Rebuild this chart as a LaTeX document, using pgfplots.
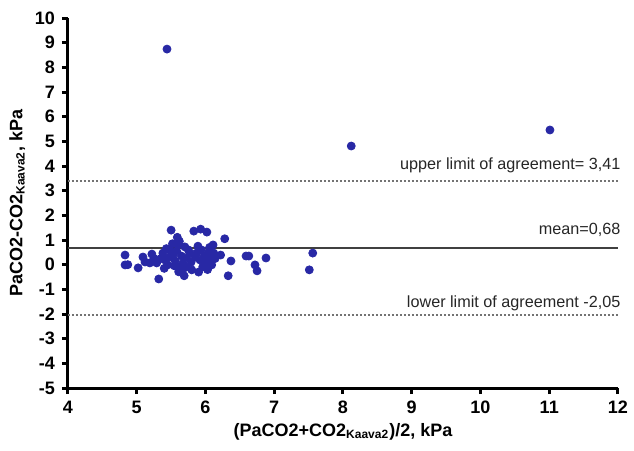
\documentclass[border=0pt]{standalone}
\usepackage{fontspec}
\setmainfont{Liberation Sans}
\usepackage{pgfplots}
\pgfplotsset{compat=1.18}
\definecolor{dotblue}{RGB}{40,40,165}

\begin{document}
\begin{tikzpicture}
\begin{axis}[
    scale only axis,
    width=275pt, height=185pt,
    xmin=4, xmax=12,
    ymin=-5, ymax=10,
    xtick={4,...,12},
    ytick={-5,...,10},
    axis lines=left,
    axis line style={line width=1.5pt, -},
    tick style={line width=1.5pt, black},
    tick align=outside,
    major tick length=3pt,
    tick label style={font=\fontsize{9}{10}\selectfont\bfseries},
    /pgf/number format/assume math mode=true,
    label style={font=\fontsize{9}{10}\selectfont\bfseries},
    xlabel={(PaCO2+CO2\textsubscript{Kaava2})/2, kPa},
    ylabel={PaCO2-CO2\textsubscript{Kaava2}, kPa},
    xlabel style={yshift=2pt},
    ylabel style={yshift=-2pt},
    clip=false,
]
\addplot[only marks, mark=*, mark size=2pt, dotblue] coordinates {
    (5.44,8.74) (8.12,4.81) (11.01,5.46)
    (4.83,0.39) (4.83,-0.01) (4.87,0.00) (5.02,-0.13) (5.09,0.31)
    (5.12,0.11) (5.22,0.43) (5.19,0.07) (5.29,0.07) (5.32,-0.58)
    (5.38,0.47) (5.41,0.19) (5.50,1.40) (5.59,1.11) (5.48,0.59)
    (5.53,0.39) (5.45,-0.01) (5.60,0.80) (5.63,-0.09) (5.61,-0.29)
    (5.69,-0.45) (5.70,0.72) (5.73,0.27) (5.77,0.47) (5.80,-0.21)
    (5.83,1.36) (5.93,1.44) (6.02,1.32) (5.87,0.47) (5.92,0.19)
    (5.96,-0.09) (6.04,0.47) (6.07,0.19) (6.11,0.80) (6.12,0.47)
    (6.09,-0.01) (6.22,0.39) (6.28,1.05) (6.37,0.15) (6.33,-0.45)
    (6.59,0.35) (6.63,0.35) (6.72,-0.01) (6.75,-0.25) (6.88,0.27)
    (7.56,0.47) (7.51,-0.21)
    (5.35,0.25) (5.43,0.65) (5.52,0.85) (5.56,0.15) (5.58,0.55)
    (5.65,0.35) (5.67,0.05) (5.72,-0.10) (5.75,0.60) (5.79,0.10)
    (5.85,0.30) (5.89,0.75) (5.94,0.60) (5.98,0.35) (6.00,0.05)
    (6.03,-0.20) (6.06,0.70) (5.40,-0.15) (5.25,0.25) (5.47,0.30)
    (5.66,-0.25) (5.90,-0.30) (6.14,0.25) (5.55,-0.05) (5.62,0.95)
};
\addplot[line width=0.75pt, black!75] coordinates {(4,0.68) (12,0.68)};
\addplot[line width=1pt, densely dotted, black!55] coordinates {(4,3.41) (12,3.41)};
\addplot[line width=1pt, densely dotted, black!55] coordinates {(4,-2.05) (12,-2.05)};
\node[anchor=base east, font=\fontsize{8.1}{9}\selectfont, text=black!85, inner sep=0pt] at (axis cs:12.04,3.41) [yshift=5.5pt] {upper limit of agreement= 3,41};
\node[anchor=base east, font=\fontsize{8.1}{9}\selectfont, text=black!85, inner sep=0pt] at (axis cs:12.04,0.68) [yshift=6.5pt] {mean=0,68};
\node[anchor=base east, font=\fontsize{8.1}{9}\selectfont, text=black!85, inner sep=0pt] at (axis cs:12.04,-2.05) [yshift=4pt] {lower limit of agreement -2,05};
\end{axis}
\pgfresetboundingbox
\path[use as bounding box] ([xshift=-34pt,yshift=-31.5pt]current axis.south west) rectangle ([xshift=8pt,yshift=9pt]current axis.north east);
\end{tikzpicture}
\end{document}
